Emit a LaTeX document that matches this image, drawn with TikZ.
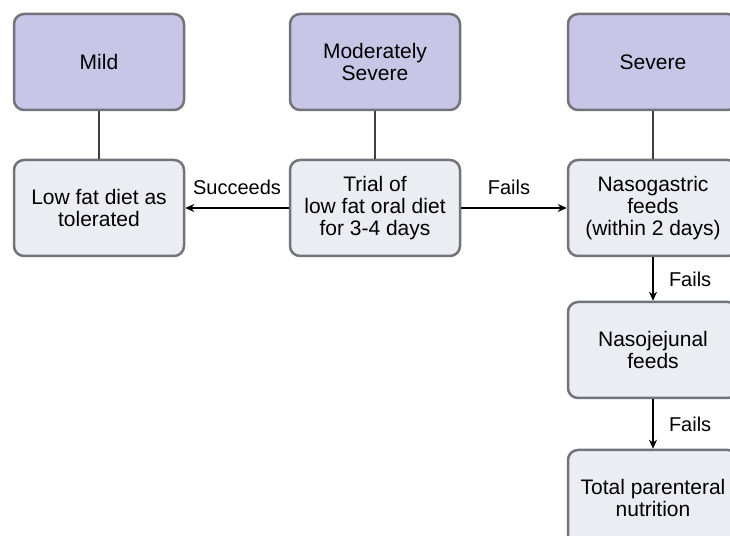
\documentclass[tikz,border=0pt]{standalone}
\usepackage{fontspec}
\setmainfont{Liberation Sans}
\usetikzlibrary{arrows.meta}

\definecolor{levelfill}{RGB}{200,197,230}
\definecolor{stepfill}{RGB}{236,236,243}
\definecolor{boxedge}{RGB}{115,115,122}

\begin{document}
\begin{tikzpicture}[x=1pt,y=1pt,
  level/.style={draw=boxedge,line width=2.5pt,rounded corners=10pt,fill=levelfill,
    minimum width=170pt,minimum height=96pt,align=center,inner sep=2pt,
    font=\fontsize{21}{22}\selectfont},
  action/.style={level,fill=stepfill},
  link/.style={draw=black!75,line width=2pt},
  flow/.style={draw=black,line width=2pt,-{Stealth[length=9pt,width=8pt]}},
  lbl/.style={font=\fontsize{20}{22}\selectfont,inner sep=5pt}]
\useasboundingbox (0,0) rectangle (730,535);
% severity levels:
\node[level] (mild) at (99,473) {Mild};
\node[level] (moderate) at (375,473) {Moderately\\Severe};
\node[level] (severe) at (653,473) {Severe};
% feeding steps:
\node[action] (lowfat) at (99,327) {Low fat diet as\\tolerated};
\node[action] (trial) at (375,327) {Trial of\\low fat oral diet\\for 3-4 days};
\node[action] (nasogastric) at (653,327) {Nasogastric\\feeds\\(within 2 days)};
\node[action] (nasojejunal) at (653,185) {Nasojejunal\\feeds};
\node[action] (parenteral) at (653,37) {Total parenteral\\nutrition};
% links and arrows:
\draw[link] (mild) -- (lowfat);
\draw[link] (moderate) -- (trial);
\draw[link] (severe) -- (nasogastric);
\draw[flow] (trial) -- node[lbl,above,yshift=7pt] {Succeeds} (lowfat);
\draw[flow] (trial) -- node[lbl,above,yshift=7pt,xshift=-5pt] {Fails} (nasogastric);
\draw[flow] (nasogastric) -- node[lbl,right,xshift=10pt] {Fails} (nasojejunal);
\draw[flow] (nasojejunal) -- node[lbl,right,xshift=10pt] {Fails} (parenteral);
\end{tikzpicture}
\end{document}
